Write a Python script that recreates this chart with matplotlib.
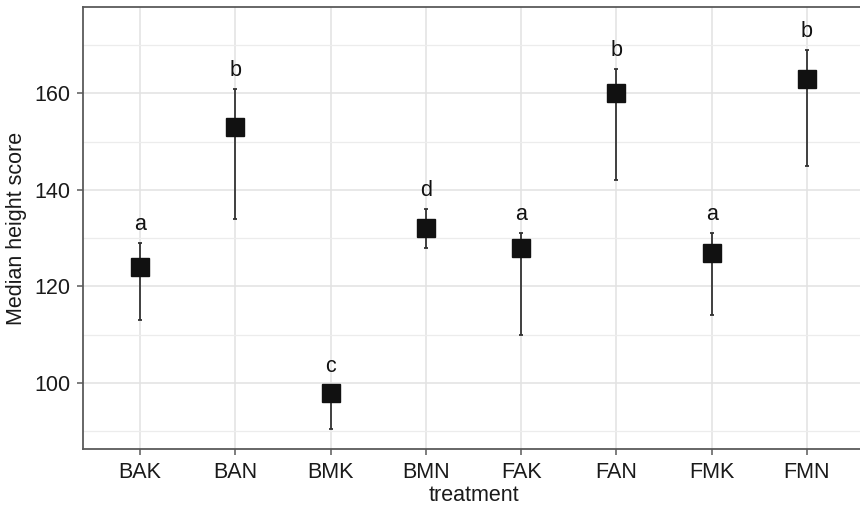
import numpy as np
import matplotlib.pyplot as plt
from matplotlib.ticker import MultipleLocator

plt.rcParams['font.family'] = ['Liberation Sans', 'DejaVu Sans']

# treatment medians with lower / upper whiskers
treatments = ['BAK', 'BAN', 'BMK', 'BMN', 'FAK', 'FAN', 'FMK', 'FMN']
median = [124, 153, 98, 132, 128, 160, 127, 163]
lower = [113, 134, 90.4, 128, 110, 142, 114, 145]
upper = [129, 161, 99.5, 136, 131, 165, 131, 169]
letters = ['a', 'b', 'c', 'd', 'a', 'b', 'a', 'b']

fig = plt.figure(figsize=(8.6, 5.11), dpi=100)
ax = fig.add_axes([83 / 860, 62 / 511, 781 / 860, 442 / 511])

x = np.arange(1, len(treatments) + 1)
med = np.array(median)
lo = np.array(lower)
hi = np.array(upper)

# whiskers first, squares on top
ax.errorbar(x, med, yerr=[med - lo, hi - med], fmt='none', ecolor='#333333',
            elinewidth=1.3, capsize=1.5, capthick=1.3, zorder=3)
ax.plot(x, med, 's', color='#111111', markersize=13.5, zorder=4)

for xi, h, lab in zip(x, upper, letters):
    ax.text(xi, h + 3.8, lab, ha='center', va='center', fontsize=15.5,
            color='#111111', zorder=5)

ax.set_xlim(0.4, 8.6)
ax.set_ylim(86.3, 177.9)
ax.set_xticks(x)
ax.set_xticklabels(treatments)
ax.yaxis.set_major_locator(MultipleLocator(20))
ax.yaxis.set_minor_locator(MultipleLocator(10))
ax.set_yticks([100, 120, 140, 160])

ax.grid(which='major', color='#e2e2e2', linewidth=1.1, zorder=0)
ax.grid(which='minor', axis='y', color='#ececec', linewidth=0.9, zorder=0)
ax.set_axisbelow(True)

for s in ax.spines.values():
    s.set_color('#5a5a5a')
    s.set_linewidth(1.3)

ax.tick_params(which='major', length=4, width=1.1, color='#5a5a5a',
               labelsize=15.5, labelcolor='#1a1a1a', pad=5)
ax.tick_params(which='minor', length=0)

ax.set_xlabel('treatment', fontsize=15.5, color='#1a1a1a', labelpad=2)
ax.set_ylabel('Median height score', fontsize=15.5, color='#1a1a1a', labelpad=5)

fig.savefig('out.png', dpi=100)
